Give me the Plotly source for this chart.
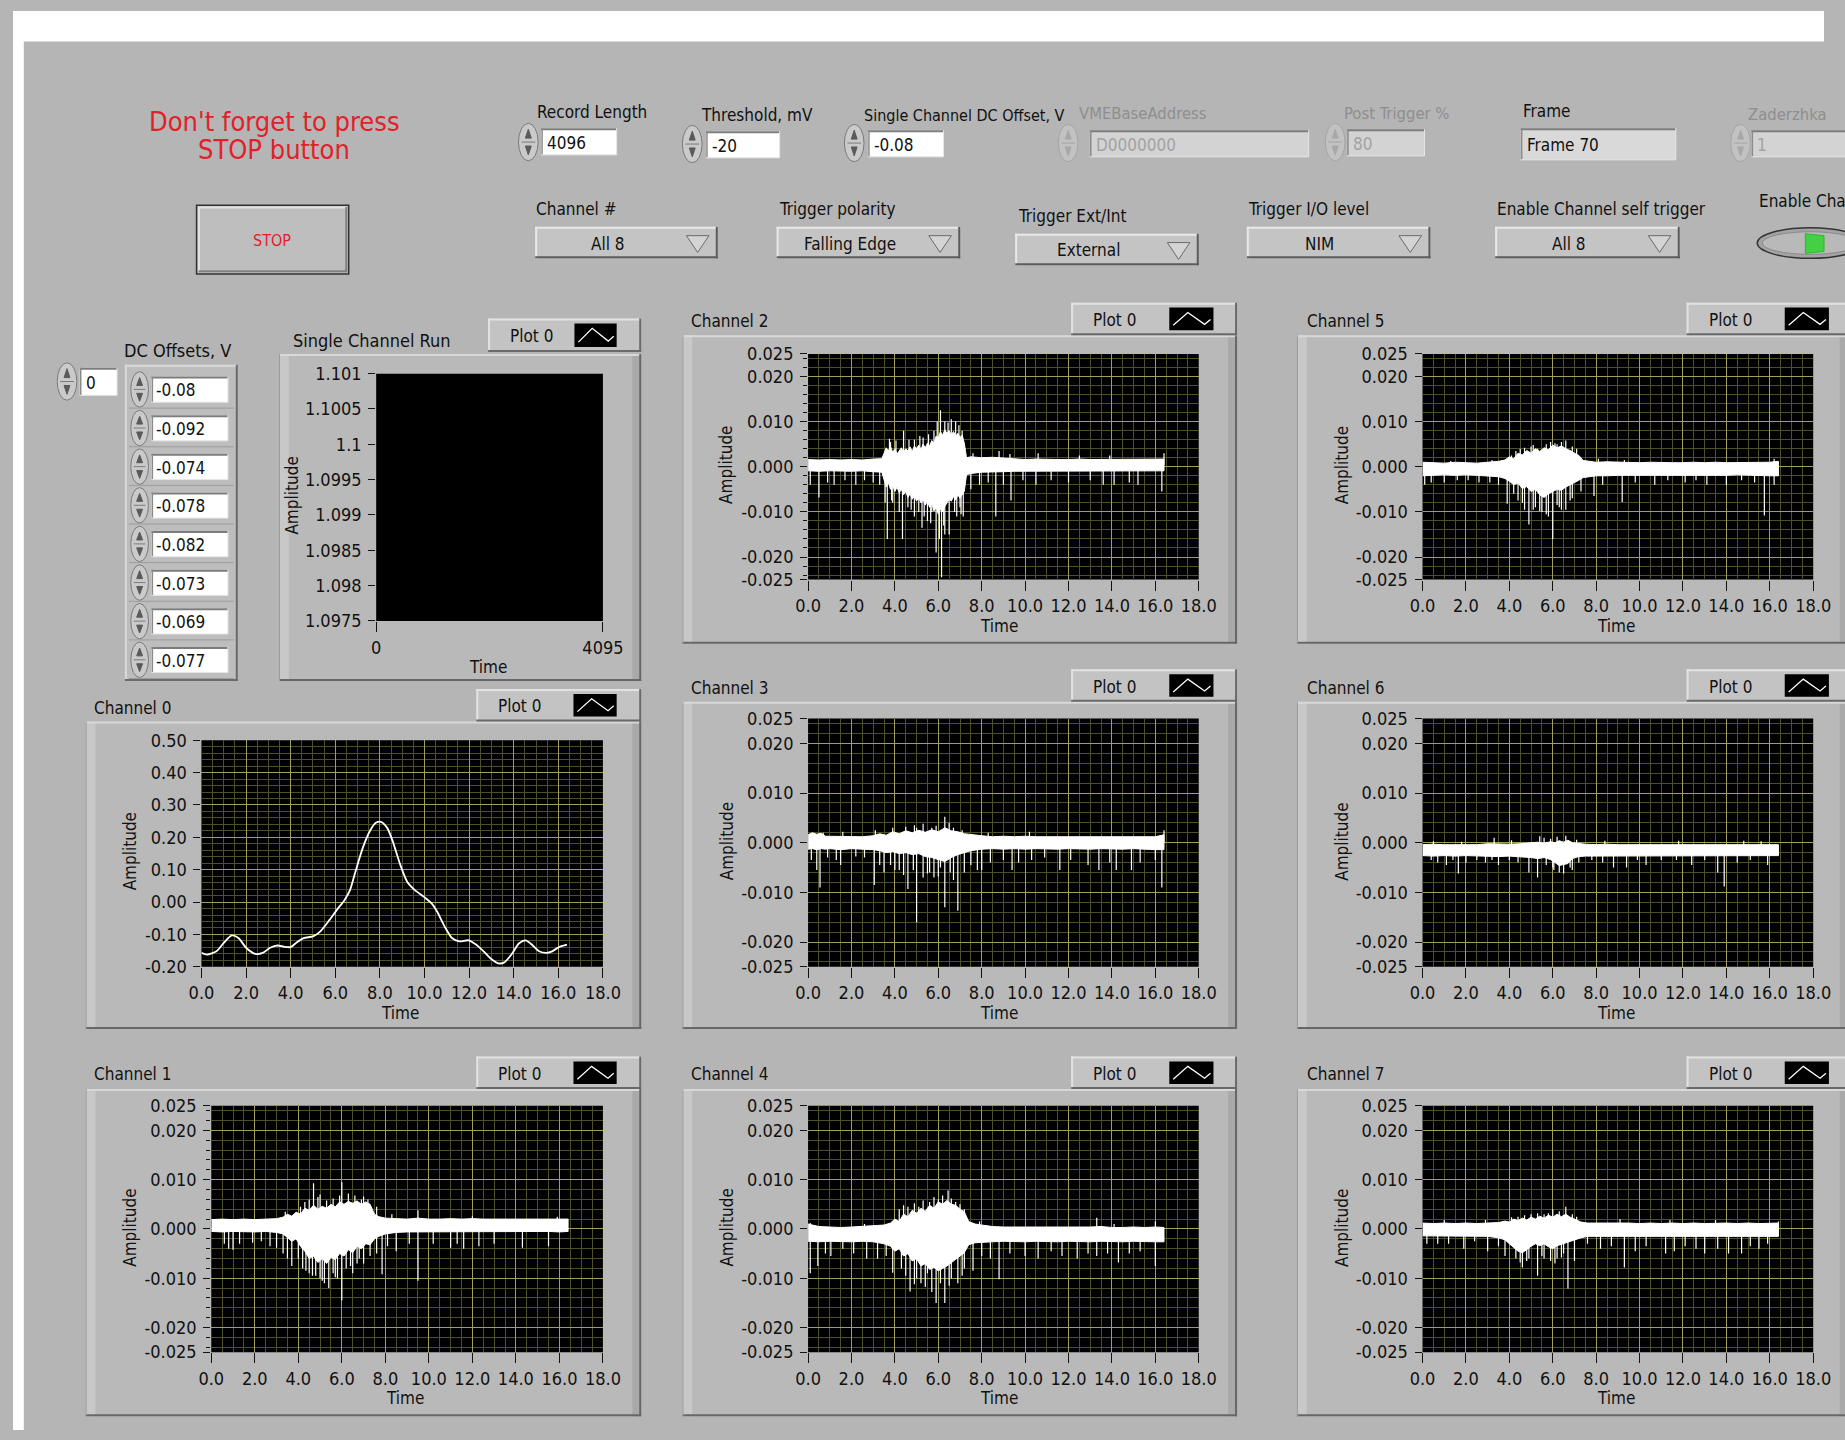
import plotly.graph_objects as go

W, H = 1845, 1440

# ======================= DATA =======================
X_TICKS = [0, 2, 4, 6, 8, 10, 12, 14, 16, 18]
X_TICK_LABELS = ["0.0", "2.0", "4.0", "6.0", "8.0", "10.0", "12.0", "14.0", "16.0", "18.0"]
Y_TICKS_SMALL = [-0.025, -0.02, -0.01, 0.0, 0.01, 0.02, 0.025]
Y_TICK_LABELS_SMALL = ["-0.025", "-0.020", "-0.010", "0.000", "0.010", "0.020", "0.025"]
Y_TICKS_CH0 = [-0.2, -0.1, 0.0, 0.1, 0.2, 0.3, 0.4, 0.5]
Y_TICK_LABELS_CH0 = ["-0.20", "-0.10", "0.00", "0.10", "0.20", "0.30", "0.40", "0.50"]
SCR_X_TICKS = [0, 4095]
SCR_X_TICK_LABELS = ["0", "4095"]
SCR_Y_TICKS = [1.0975, 1.098, 1.0985, 1.099, 1.0995, 1.1, 1.1005, 1.101]
SCR_Y_TICK_LABELS = ["1.0975", "1.098", "1.0985", "1.099", "1.0995", "1.1", "1.1005", "1.101"]

CONTROL_LABELS = ["Record Length", "Threshold, mV", "Single Channel DC Offset, V",
                  "VMEBaseAddress", "Post Trigger %", "Frame", "Zaderzhka"]
CONTROL_VALUES = ["4096", "-20", "-0.08", "D0000000", "80", "Frame 70", "1"]
RING_LABELS = ["Channel #", "Trigger polarity", "Trigger Ext/Int", "Trigger I/O level",
               "Enable Channel self trigger"]
RING_VALUES = ["All 8", "Falling Edge", "External", "NIM", "All 8"]
DC_INDEX = "0"
DC_OFFSETS = ["-0.08", "-0.092", "-0.074", "-0.078", "-0.082", "-0.073", "-0.069", "-0.077"]
CHANNEL_TITLES = ["Channel 0", "Channel 1", "Channel 2", "Channel 3",
                  "Channel 4", "Channel 5", "Channel 6", "Channel 7"]

# Channel 0 (smooth pulse)
CH0_T = [0.0, 0.25, 0.67, 1.0, 1.36, 1.66, 2.0, 2.41, 2.75, 3.08, 3.41, 3.71, 4.0, 4.24,
         4.58, 5.0, 5.32, 5.74, 6.07, 6.41, 6.66, 6.9, 7.24, 7.57, 7.82, 8.04, 8.32, 8.57,
         8.9, 9.23, 9.57, 9.98, 10.32, 10.57, 10.9, 11.23, 11.56, 11.98, 12.31, 12.65,
         12.98, 13.31, 13.56, 13.9, 14.23, 14.53, 14.81, 15.14, 15.48, 15.72, 16.06, 16.39]
CH0_V = [-0.157, -0.162, -0.152, -0.126, -0.103, -0.111, -0.141, -0.160, -0.157, -0.141,
         -0.134, -0.138, -0.139, -0.126, -0.111, -0.106, -0.091, -0.055, -0.024, 0.006,
         0.037, 0.093, 0.169, 0.222, 0.245, 0.248, 0.230, 0.189, 0.118, 0.062, 0.037,
         0.016, -0.004, -0.030, -0.075, -0.111, -0.121, -0.118, -0.131, -0.152, -0.175,
         -0.189, -0.187, -0.162, -0.128, -0.118, -0.131, -0.152, -0.157, -0.152, -0.138,
         -0.131]

# Noise channels: dense core band as (time, upper edge, lower edge)
CH1_BAND = [(0.0, .0019, -.0005), (0.5, .0020, -.0006), (1.0, .0019, -.0005), (1.5, .0020, -.0005),
            (2.0, .0019, -.0006), (2.5, .0020, -.0005), (3.0, .0021, -.0007), (3.3, .0024, -.0010),
            (3.5, .0030, -.0018), (3.7, .0026, -.0025), (3.9, .0034, -.0020), (4.1, .0030, -.0035),
            (4.3, .0042, -.0045), (4.5, .0038, -.0060), (4.7, .0048, -.0055), (4.9, .0040, -.0068),
            (5.1, .0046, -.0060), (5.3, .0042, -.0070), (5.5, .0050, -.0058), (5.7, .0045, -.0062),
            (5.9, .0055, -.0050), (6.1, .0050, -.0055), (6.3, .0056, -.0042), (6.5, .0052, -.0048),
            (6.7, .0057, -.0035), (6.9, .0050, -.0040), (7.1, .0055, -.0030), (7.3, .0050, -.0032),
            (7.5, .0030, -.0020), (7.7, .0025, -.0015), (8.0, .0022, -.0010), (8.5, .0021, -.0007),
            (9.0, .0020, -.0006), (9.5, .0022, -.0006), (10.0, .0020, -.0005), (10.5, .0020, -.0006),
            (11.0, .0021, -.0005), (11.5, .0020, -.0006), (12.0, .0021, -.0005), (12.5, .0020, -.0005),
            (13.0, .0020, -.0006), (13.5, .0021, -.0005), (14.0, .0020, -.0005), (14.5, .0021, -.0006),
            (15.0, .0020, -.0005), (15.5, .0020, -.0005), (16.0, .0021, -.0006), (16.4, .0020, -.0005)]
CH2_BAND = [(0.0, .0016, -.0009), (0.5, .0015, -.0010), (1.0, .0016, -.0009), (1.5, .0015, -.0009),
            (2.0, .0016, -.0010), (2.5, .0015, -.0009), (3.0, .0017, -.0011), (3.4, .0018, -.0012),
            (3.5, .0030, -.0030), (3.6, .0042, -.0045), (3.7, .0035, -.0035), (3.8, .0045, -.0050),
            (3.9, .0032, -.0040), (4.0, .0040, -.0055), (4.1, .0028, -.0045), (4.2, .0036, -.0058),
            (4.3, .0042, -.0050), (4.4, .0032, -.0062), (4.5, .0040, -.0055), (4.6, .0035, -.0068),
            (4.7, .0044, -.0060), (4.8, .0034, -.0072), (4.9, .0046, -.0064), (5.0, .0040, -.0076),
            (5.1, .0048, -.0068), (5.2, .0038, -.0080), (5.3, .0050, -.0072), (5.4, .0042, -.0085),
            (5.5, .0052, -.0076), (5.6, .0046, -.0090), (5.7, .0058, -.0080), (5.8, .0052, -.0098),
            (5.9, .0068, -.0090), (6.0, .0064, -.0105), (6.1, .0078, -.0094), (6.2, .0070, -.0100),
            (6.3, .0082, -.0088), (6.4, .0074, -.0080), (6.5, .0080, -.0072), (6.6, .0070, -.0076),
            (6.7, .0078, -.0066), (6.8, .0068, -.0074), (6.9, .0074, -.0062), (7.0, .0065, -.0070),
            (7.1, .0070, -.0062), (7.2, .0052, -.0054), (7.3, .0020, -.0018), (7.5, .0022, -.0015),
            (8.0, .0020, -.0012), (8.5, .0021, -.0012), (9.0, .0019, -.0011), (9.5, .0017, -.0010),
            (10.0, .0016, -.0009), (10.5, .0017, -.0009), (11.0, .0016, -.0009), (11.5, .0016, -.0010),
            (12.0, .0016, -.0009), (12.5, .0017, -.0009), (13.0, .0016, -.0009), (13.5, .0016, -.0010),
            (14.0, .0017, -.0009), (14.5, .0016, -.0009), (15.0, .0016, -.0009), (15.5, .0016, -.0010),
            (16.0, .0017, -.0009), (16.4, .0017, -.0009)]
CH3_BAND = [(0.0, .0016, -.0013), (0.2, .0020, -.0012), (0.4, .0017, -.0014), (0.6, .0019, -.0012),
            (0.8, .0013, -.0013), (1.0, .0013, -.0012), (1.5, .0012, -.0014), (2.0, .0013, -.0012),
            (2.5, .0012, -.0013), (3.0, .0014, -.0014), (3.3, .0018, -.0016), (3.6, .0015, -.0020),
            (3.9, .0022, -.0018), (4.2, .0018, -.0022), (4.5, .0024, -.0020), (4.8, .0020, -.0024),
            (5.1, .0025, -.0022), (5.4, .0021, -.0028), (5.7, .0026, -.0030), (6.0, .0022, -.0034),
            (6.3, .0030, -.0038), (6.6, .0024, -.0030), (6.9, .0022, -.0024), (7.2, .0018, -.0020),
            (7.5, .0016, -.0016), (8.0, .0014, -.0013), (8.5, .0012, -.0012), (9.0, .0013, -.0013),
            (9.5, .0012, -.0012), (10.0, .0013, -.0013), (10.5, .0012, -.0012), (11.0, .0012, -.0012),
            (11.5, .0012, -.0013), (12.0, .0012, -.0012), (12.5, .0012, -.0012), (13.0, .0012, -.0013),
            (13.5, .0012, -.0012), (14.0, .0012, -.0012), (14.5, .0012, -.0013), (15.0, .0012, -.0012),
            (15.5, .0012, -.0013), (16.0, .0012, -.0014), (16.4, .0016, -.0014)]
CH4_BAND = [(0.0, .0010, -.0025), (0.5, .0005, -.0026), (1.0, .0004, -.0025), (1.5, .0003, -.0025),
            (2.0, .0004, -.0026), (2.5, .0005, -.0025), (3.0, .0006, -.0026), (3.5, .0008, -.0030),
            (3.8, .0012, -.0035), (4.0, .0020, -.0045), (4.2, .0015, -.0040), (4.4, .0030, -.0055),
            (4.6, .0025, -.0050), (4.8, .0038, -.0065), (5.0, .0032, -.0060), (5.2, .0042, -.0075),
            (5.4, .0036, -.0070), (5.6, .0048, -.0082), (5.8, .0042, -.0078), (6.0, .0055, -.0085),
            (6.2, .0050, -.0080), (6.4, .0058, -.0075), (6.6, .0050, -.0068), (6.8, .0048, -.0062),
            (7.0, .0040, -.0055), (7.2, .0035, -.0048), (7.4, .0015, -.0032), (7.7, .0010, -.0028),
            (8.0, .0008, -.0027), (8.5, .0005, -.0026), (9.0, .0004, -.0025), (9.5, .0004, -.0025),
            (10.0, .0003, -.0026), (10.5, .0004, -.0025), (11.0, .0003, -.0025), (11.5, .0004, -.0026),
            (12.0, .0003, -.0025), (12.5, .0003, -.0025), (13.0, .0004, -.0026), (13.5, .0005, -.0025),
            (14.0, .0003, -.0025), (14.5, .0003, -.0026), (15.0, .0004, -.0025), (15.5, .0003, -.0025),
            (16.0, .0004, -.0026), (16.4, .0003, -.0026)]
CH5_BAND = [(0.0, .0010, -.0020), (0.5, .0009, -.0019), (1.0, .0008, -.0018), (1.5, .0010, -.0019),
            (2.0, .0009, -.0018), (2.5, .0008, -.0019), (3.0, .0010, -.0020), (3.5, .0012, -.0022),
            (3.8, .0015, -.0026), (4.0, .0022, -.0032), (4.2, .0018, -.0040), (4.4, .0030, -.0036),
            (4.6, .0026, -.0048), (4.8, .0036, -.0044), (5.0, .0030, -.0055), (5.2, .0040, -.0050),
            (5.4, .0034, -.0062), (5.6, .0042, -.0068), (5.8, .0038, -.0060), (6.0, .0048, -.0055),
            (6.2, .0042, -.0050), (6.4, .0046, -.0052), (6.6, .0040, -.0045), (6.8, .0036, -.0040),
            (7.0, .0030, -.0035), (7.2, .0025, -.0030), (7.4, .0014, -.0024), (7.7, .0012, -.0022),
            (8.0, .0010, -.0020), (8.5, .0011, -.0020), (9.0, .0010, -.0019), (9.5, .0010, -.0019),
            (10.0, .0009, -.0018), (10.5, .0010, -.0019), (11.0, .0009, -.0019), (11.5, .0009, -.0018),
            (12.0, .0009, -.0019), (12.5, .0010, -.0019), (13.0, .0009, -.0018), (13.5, .0010, -.0019),
            (14.0, .0009, -.0019), (14.5, .0009, -.0018), (15.0, .0010, -.0019), (15.5, .0009, -.0019),
            (16.0, .0010, -.0020), (16.4, .0012, -.0020)]
CH6_BAND = [(0.0, -.0004, -.0026), (0.5, -.0003, -.0027), (1.0, -.0004, -.0026), (1.5, -.0004, -.0027),
            (2.0, -.0003, -.0026), (2.5, -.0004, -.0026), (3.0, -.0002, -.0027), (3.5, -.0003, -.0028),
            (4.0, -.0003, -.0027), (4.5, -.0002, -.0028), (5.0, -.0001, -.0030), (5.3, .0001, -.0032),
            (5.6, -.0001, -.0030), (5.9, .0002, -.0034), (6.1, .0000, -.0040), (6.3, .0004, -.0046),
            (6.5, .0001, -.0044), (6.7, .0005, -.0042), (6.9, .0000, -.0032), (7.2, -.0002, -.0028),
            (7.5, -.0003, -.0027), (8.0, -.0004, -.0026), (8.5, -.0003, -.0026), (9.0, -.0004, -.0027),
            (9.5, -.0004, -.0026), (10.0, -.0003, -.0026), (10.5, -.0004, -.0027), (11.0, -.0004, -.0026),
            (11.5, -.0003, -.0026), (12.0, -.0004, -.0027), (12.5, -.0004, -.0026), (13.0, -.0003, -.0026),
            (13.5, -.0004, -.0027), (14.0, -.0003, -.0026), (14.5, -.0003, -.0026), (15.0, -.0004, -.0027),
            (15.5, -.0003, -.0026), (16.0, -.0004, -.0026), (16.4, -.0004, -.0026)]
CH7_BAND = [(0.0, .0012, -.0014), (0.5, .0011, -.0015), (1.0, .0012, -.0014), (1.5, .0011, -.0015),
            (2.0, .0012, -.0014), (2.5, .0011, -.0015), (3.0, .0012, -.0015), (3.5, .0013, -.0018),
            (3.8, .0016, -.0022), (4.0, .0014, -.0030), (4.2, .0020, -.0038), (4.4, .0017, -.0045),
            (4.6, .0022, -.0048), (4.8, .0018, -.0042), (5.0, .0024, -.0035), (5.2, .0020, -.0030),
            (5.4, .0026, -.0034), (5.6, .0022, -.0030), (5.8, .0028, -.0036), (6.0, .0024, -.0040),
            (6.2, .0030, -.0034), (6.4, .0025, -.0030), (6.6, .0030, -.0028), (6.8, .0024, -.0026),
            (7.0, .0020, -.0022), (7.3, .0014, -.0018), (7.6, .0012, -.0015), (8.0, .0012, -.0015),
            (8.5, .0013, -.0015), (9.0, .0012, -.0014), (9.5, .0012, -.0015), (10.0, .0011, -.0015),
            (10.5, .0012, -.0014), (11.0, .0011, -.0015), (11.5, .0012, -.0015), (12.0, .0011, -.0014),
            (12.5, .0012, -.0015), (13.0, .0011, -.0015), (13.5, .0012, -.0014), (14.0, .0012, -.0015),
            (14.5, .0011, -.0015), (15.0, .0012, -.0014), (15.5, .0011, -.0015), (16.0, .0012, -.0015),
            (16.4, .0012, -.0015)]

# Individual spikes (time, tip value)
CH1_SPIKES = [(0.6, -0.0030), (0.8, -0.0040), (1.0, -0.0042), (1.3, -0.0030), (1.9, -0.0028),
              (2.3, -0.0025), (2.7, -0.0035), (3.0, -0.0038), (3.3, -0.0050), (3.5, -0.0060),
              (3.7, -0.0075), (4.0, -0.0060), (4.2, -0.0080), (4.5, -0.0090), (4.8, -0.0095),
              (5.0, -0.0100), (5.2, -0.0110), (5.4, -0.0120), (5.6, -0.0090), (5.8, -0.0100),
              (6.0, -0.0145), (6.2, -0.0080), (6.5, -0.0090), (6.8, -0.0060), (7.0, -0.0070),
              (7.3, -0.0055), (7.6, -0.0050), (7.85, -0.0092), (8.1, -0.0035), (8.5, -0.0045),
              (9.1, -0.0030), (9.5, -0.0105), (10.2, -0.0030), (11.0, -0.0038), (11.3, -0.0030),
              (11.6, -0.0040), (12.3, -0.0035), (13.0, -0.0030), (14.3, -0.0038), (15.5, -0.0035),
              (4.35, -0.0085), (4.65, -0.0095), (5.1, -0.0105), (5.7, -0.0098), (6.4, -0.0075),
              (6.7, -0.0070),
              (3.4, 0.0035), (4.1, 0.0045), (4.5, 0.0060), (4.7, 0.0093), (5.0, 0.0070),
              (5.3, 0.0058), (6.0, 0.0095), (6.3, 0.0072), (6.9, 0.0060), (7.2, 0.0060),
              (7.6, 0.0045), (8.3, 0.0030), (9.5, 0.0038), (12.0, 0.0026), (15.9, 0.0025),
              (4.3, 0.0055), (4.9, 0.0065), (5.6, 0.0062), (5.9, 0.0068), (6.6, 0.0068), (7.0, 0.0066)]
CH2_SPIKES = [(0.1, -0.0040), (0.5, -0.0068), (0.9, -0.0035), (1.2, -0.0040), (1.7, -0.0030),
              (2.2, -0.0040), (2.6, -0.0030), (3.0, -0.0035), (3.3, -0.0040), (3.55, -0.0080),
              (3.65, -0.0160), (3.9, -0.0080), (4.2, -0.0100), (4.35, -0.0160), (4.6, -0.0090),
              (4.9, -0.0110), (5.1, -0.0100), (5.25, -0.0135), (5.5, -0.0120), (5.7, -0.0100),
              (5.9, -0.0190), (6.05, -0.0160), (6.15, -0.0245), (6.3, -0.0150), (6.5, -0.0150),
              (6.75, -0.0100), (7.0, -0.0090), (7.15, -0.0110), (7.5, -0.0050), (7.9, -0.0040),
              (8.3, -0.0035), (8.65, -0.0110), (9.0, -0.0040), (9.35, -0.0075), (9.9, -0.0030),
              (10.5, -0.0040), (11.2, -0.0030), (12.0, -0.0035), (13.0, -0.0030), (13.6, -0.0040),
              (14.1, -0.0040), (14.8, -0.0035), (15.2, -0.0040), (16.3, -0.0055),
              (3.85, -0.0075), (4.75, -0.0095), (5.35, -0.0110), (5.65, -0.0125), (6.25, -0.0130),
              (6.85, -0.0110), (7.05, -0.0105),
              (3.8, 0.0055), (4.4, 0.0080), (4.9, 0.0060), (5.3, 0.0065), (5.8, 0.0080),
              (6.1, 0.0125), (6.3, 0.0100), (6.6, 0.0105), (6.8, 0.0100), (7.1, 0.0080),
              (7.6, 0.0030), (8.8, 0.0035), (9.3, 0.0028), (10.6, 0.0030), (12.5, 0.0025),
              (13.9, 0.0025), (16.4, 0.0030), (3.75, 0.0062), (4.05, 0.0058), (4.65, 0.0060),
              (5.15, 0.0068), (5.55, 0.0072), (5.95, 0.0100), (6.45, 0.0098), (6.95, 0.0092)]
CH3_SPIKES = [(0.15, -0.0035), (0.4, -0.0055), (0.55, -0.0090), (0.9, -0.0030), (1.3, -0.0035),
              (1.5, -0.0045), (2.2, -0.0028), (2.6, -0.0030), (3.05, -0.0085), (3.3, -0.0045),
              (3.5, -0.0060), (3.8, -0.0045), (4.0, -0.0055), (4.2, -0.0055), (4.6, -0.0093),
              (4.85, -0.0055), (5.0, -0.0160), (5.3, -0.0070), (5.6, -0.0060), (5.8, -0.0070),
              (6.1, -0.0050), (6.3, -0.0130), (6.55, -0.0060), (6.9, -0.0137), (7.2, -0.0060),
              (7.5, -0.0045), (7.8, -0.0055), (8.0, -0.0055), (8.4, -0.0040), (9.0, -0.0035),
              (9.4, -0.0055), (9.7, -0.0040), (10.3, -0.0035), (10.9, -0.0030), (11.6, -0.0055),
              (12.1, -0.0035), (12.9, -0.0045), (13.4, -0.0055), (13.9, -0.0040), (14.2, -0.0055),
              (14.9, -0.0055), (15.3, -0.0040), (16.0, -0.0035), (16.3, -0.0090),
              (4.4, -0.0065), (5.5, -0.0062), (6.0, -0.0068), (6.7, -0.0075),
              (0.7, 0.0020), (1.6, 0.0022), (3.1, 0.0025), (3.9, 0.0030), (4.5, 0.0032),
              (4.9, 0.0035), (5.3, 0.0038), (5.7, 0.0030), (6.3, 0.0052), (6.7, 0.0030),
              (7.1, 0.0025), (8.3, 0.0020), (10.2, 0.0022), (16.4, 0.0025),
              (5.0, 0.0030), (5.9, 0.0034), (6.5, 0.0040)]
CH4_SPIKES = [(0.1, -0.0090), (0.45, -0.0075), (0.8, -0.0050), (1.05, -0.0055), (1.6, -0.0040),
              (2.1, -0.0050), (2.7, -0.0060), (3.2, -0.0060), (3.6, -0.0055), (3.9, -0.0089),
              (4.3, -0.0080), (4.7, -0.0127), (5.0, -0.0100), (5.2, -0.0110), (5.5, -0.0090),
              (5.9, -0.0150), (6.1, -0.0110), (6.3, -0.0150), (6.6, -0.0100), (6.9, -0.0110),
              (7.2, -0.0080), (7.6, -0.0085), (8.0, -0.0055), (8.4, -0.0060), (8.8, -0.0102),
              (9.3, -0.0050), (10.0, -0.0055), (10.6, -0.0060), (11.2, -0.0045), (11.7, -0.0055),
              (12.4, -0.0060), (12.9, -0.0050), (13.3, -0.0055), (13.8, -0.0050), (14.3, -0.0068),
              (14.8, -0.0050), (15.3, -0.0045), (16.0, -0.0075),
              (4.5, -0.0095), (4.9, -0.0112), (5.4, -0.0118), (5.7, -0.0128), (6.5, -0.0115),
              (7.1, -0.0095),
              (0.1, 0.0012), (2.6, 0.0010), (4.2, 0.0040), (4.6, 0.0045), (5.1, 0.0045),
              (5.6, 0.0055), (6.0, 0.0060), (6.45, 0.0078), (6.8, 0.0055), (7.2, 0.0040),
              (7.9, 0.0015), (13.3, 0.0023), (14.1, 0.0010), (16.0, 0.0015),
              (4.4, 0.0048), (4.9, 0.0052), (5.3, 0.0058), (5.8, 0.0065), (6.2, 0.0068),
              (6.6, 0.0062), (7.0, 0.0050)]
CH5_SPIKES = [(0.1, -0.0040), (0.4, -0.0035), (1.0, -0.0035), (1.6, -0.0030), (2.1, -0.0030),
              (2.6, -0.0035), (3.1, -0.0035), (3.5, -0.0040), (3.9, -0.0082), (4.2, -0.0060),
              (4.4, -0.0075), (4.7, -0.0095), (4.9, -0.0128), (5.2, -0.0090), (5.5, -0.0100),
              (5.7, -0.0105), (6.0, -0.0160), (6.2, -0.0085), (6.4, -0.0095), (6.6, -0.0095),
              (6.9, -0.0070), (7.3, -0.0055), (7.9, -0.0065), (8.3, -0.0040), (9.2, -0.0078),
              (9.8, -0.0035), (10.7, -0.0040), (11.3, -0.0030), (12.1, -0.0035), (12.6, -0.0030),
              (13.1, -0.0040), (14.0, -0.0040), (14.7, -0.0030), (15.3, -0.0035), (15.75, -0.0108),
              (16.2, -0.0040), (4.6, -0.0080), (5.1, -0.0095), (5.4, -0.0098), (5.8, -0.0110),
              (6.3, -0.0090), (6.8, -0.0075),
              (1.3, 0.0013), (3.2, 0.0015), (4.1, 0.0025), (4.5, 0.0040), (4.8, 0.0030),
              (5.0, 0.0045), (5.3, 0.0040), (5.9, 0.0055), (6.2, 0.0050), (6.6, 0.0058),
              (7.1, 0.0040), (8.1, 0.0018), (9.3, 0.0015), (16.2, 0.0018),
              (4.3, 0.0035), (4.7, 0.0042), (5.1, 0.0048), (5.7, 0.0050), (6.1, 0.0052),
              (6.4, 0.0055), (6.9, 0.0045)]
CH6_SPIKES = [(0.4, -0.0035), (0.7, -0.0040), (1.1, -0.0045), (1.4, -0.0035), (1.65, -0.0062),
              (2.0, -0.0040), (2.5, -0.0035), (2.9, -0.0040), (3.2, -0.0035), (3.5, -0.0045),
              (4.0, -0.0035), (4.4, -0.0040), (4.9, -0.0060), (5.3, -0.0070), (5.7, -0.0045),
              (6.0, -0.0050), (6.3, -0.0060), (6.8, -0.0050), (7.2, -0.0040), (7.8, -0.0035),
              (8.3, -0.0040), (8.8, -0.0050), (9.4, -0.0050), (9.9, -0.0035), (10.3, -0.0045),
              (11.0, -0.0035), (11.7, -0.0035), (12.4, -0.0045), (13.0, -0.0035), (13.6, -0.0060),
              (13.9, -0.0088), (14.5, -0.0040), (15.1, -0.0035), (15.9, -0.0045),
              (6.05, -0.0055), (6.5, -0.0062), (6.9, -0.0055),
              (0.5, 0.0003), (1.8, 0.0002), (3.3, 0.0010), (4.1, 0.0005), (5.4, 0.0013),
              (5.9, 0.0008), (6.6, 0.0014), (7.1, 0.0006), (8.4, 0.0004), (11.8, 0.0004),
              (14.8, 0.0004), (15.6, 0.0003), (5.6, 0.0010), (6.2, 0.0012)]
CH7_SPIKES = [(0.2, -0.0030), (0.7, -0.0030), (1.2, -0.0030), (1.9, -0.0040), (2.4, -0.0025),
              (3.0, -0.0045), (3.5, -0.0035), (3.8, -0.0055), (4.3, -0.0060), (4.6, -0.0078),
              (4.9, -0.0060), (5.3, -0.0095), (5.6, -0.0060), (5.9, -0.0065), (6.2, -0.0060),
              (6.5, -0.0050), (6.7, -0.0121), (7.0, -0.0065), (7.6, -0.0030), (8.2, -0.0040),
              (8.7, -0.0035), (9.3, -0.0078), (9.8, -0.0045), (10.3, -0.0035), (11.2, -0.0050),
              (11.6, -0.0045), (12.1, -0.0035), (12.6, -0.0040), (13.0, -0.0050), (13.6, -0.0040),
              (14.1, -0.0050), (14.7, -0.0050), (15.1, -0.0035), (15.5, -0.0040), (15.9, -0.0030),
              (4.5, -0.0068), (4.8, -0.0065), (5.5, -0.0055), (6.1, -0.0070), (6.4, -0.0058),
              (1.0, 0.0018), (2.9, 0.0018), (4.4, 0.0025), (5.0, 0.0030), (5.8, 0.0032),
              (6.0, 0.0040), (6.6, 0.0045), (7.1, 0.0025), (9.1, 0.0020), (11.4, 0.0018),
              (13.5, 0.0018), (16.4, 0.0015), (4.1, 0.0024), (4.7, 0.0028), (5.3, 0.0032),
              (5.6, 0.0030), (6.3, 0.0036), (6.9, 0.0030)]
# baseline level (centre of the quiet band) of channels 1..7
SPIKE_BASE = [0.0007, 0.0004, 0.0000, -0.0011, -0.0005, -0.0015, -0.0001]

# ======================= STYLE / LAYOUT =======================
BG = "#B5B5B5"
FONT = "'DejaVu Sans Condensed', 'Liberation Sans', Arial, sans-serif"
INK = "#111111"
DIM = "#8E8E8E"
RED = "#E3202A"
GRID_MAJOR = "rgb(160,160,92)"
GRID_MINOR = "rgb(80,80,40)"

shapes, anns = [], []


def X(x):
    return x / W


def Y(y):
    return 1 - y / H


def rect(x0, y0, x1, y1, fill, line=None, lw=0):
    shapes.append(dict(type="rect", xref="paper", yref="paper", layer="below",
                       x0=X(x0), x1=X(x1), y0=Y(y1), y1=Y(y0), fillcolor=fill,
                       line=dict(color=line or "rgba(0,0,0,0)", width=lw)))


def seg(x0, y0, x1, y1, color, lw=1):
    shapes.append(dict(type="line", xref="paper", yref="paper", layer="below",
                       x0=X(x0), x1=X(x1), y0=Y(y0), y1=Y(y1),
                       line=dict(color=color, width=lw)))


def oval(x0, y0, x1, y1, fill, line, lw=1):
    shapes.append(dict(type="circle", xref="paper", yref="paper", layer="below",
                       x0=X(x0), x1=X(x1), y0=Y(y1), y1=Y(y0), fillcolor=fill,
                       line=dict(color=line, width=lw)))


def poly(pts, line, lw=1, fill=None, closed=True):
    d = "M " + " L ".join(f"{X(a):.5f},{Y(b):.5f}" for a, b in pts) + (" Z" if closed else "")
    shapes.append(dict(type="path", xref="paper", yref="paper", layer="below", path=d,
                       fillcolor=fill or "rgba(0,0,0,0)", line=dict(color=line, width=lw)))


def label(x, y, s, size=17, color=INK, xa="left", ya="middle", angle=0):
    anns.append(dict(xref="paper", yref="paper", x=X(x), y=Y(y), text=s, showarrow=False,
                     xanchor=xa, yanchor=ya, textangle=angle, borderpad=0,
                     font=dict(family=FONT, size=size, color=color)))


def raised(x0, y0, x1, y1, fill="#C0C0C0", hi="#E4E4E4", lo="#5A5A5A", w=2):
    rect(x0, y0, x1, y1, fill)
    seg(x0, y0 + w / 2, x1, y0 + w / 2, hi, w)
    seg(x0 + w / 2, y0, x0 + w / 2, y1, hi, w)
    seg(x0, y1 - w / 2, x1, y1 - w / 2, lo, w)
    seg(x1 - w / 2, y0, x1 - w / 2, y1, lo, w)


def field(x0, y0, x1, y1, fill):
    rect(x0, y0, x1, y1, fill)
    seg(x0, y0 + 1, x1, y0 + 1, "#7C7C7C", 2)
    seg(x0 + 1, y0, x0 + 1, y1, "#8A8A8A", 1.5)
    seg(x0, y1, x1, y1, "#E6E6E6", 1)
    seg(x1, y0, x1, y1, "#E6E6E6", 1)


def spinner(cx, cy, w, h, dim=False):
    fill = "#C2C2C2" if dim else "#CACACA"
    edge = "#A5A5A5" if dim else "#7A7A7A"
    arr = "#A8A8A8" if dim else "#5A5A5A"
    oval(cx - w / 2, cy - h / 2, cx + w / 2, cy + h / 2, fill, edge, 1)
    seg(cx - w / 2 + 3, cy, cx + w / 2 - 3, cy, edge, 1)
    poly([(cx - 3, cy - 4), (cx, cy - h / 2 + 6), (cx + 3, cy - 4)], arr, 1, arr)
    poly([(cx - 3, cy + 4), (cx, cy + h / 2 - 6), (cx + 3, cy + 4)], arr, 1, arr)


# ---- page background ----
rect(0, 0, W, 31, "#FFFFFF")
rect(0, 0, 11, H, "#FFFFFF")

# ---- warning text & STOP button ----
label(266, 112, "Don't forget to press", 27, RED, "center")
label(266, 141, "STOP button", 27, RED, "center")
rect(187, 197, 342, 267, "#BEBEBE", "#333333", 1.5)
seg(189, 199.5, 340, 199.5, "#E2E2E2", 2)
seg(189.5, 199, 189.5, 265, "#E2E2E2", 2)
seg(189, 264, 340, 264, "#808080", 2)
seg(339.5, 199, 339.5, 265, "#808080", 2)
label(264, 233, "STOP", 16, RED, "center")

# ---- numeric / string controls (top row) ----
CONTROL_GEOM = [
    ((525, 133, 20, 38), (538, 119, 615, 146), (533, 102), False, "#FFFFFF", 17),
    ((692, 135, 20, 38), (706, 122, 781, 149), (700, 106), False, "#FFFFFF", 17),
    ((857, 134, 20, 38), (871, 121, 948, 148), (866, 106), False, "#FFFFFF", 16),
    ((1075, 134, 20, 38), (1097, 121, 1320, 148), (1085, 104), True, "#D3D3D3", 16.5),
    ((1347, 133, 20, 38), (1359, 120, 1438, 147), (1355, 104), True, "#D3D3D3", 16.5),
    (None, (1536, 119, 1694, 151), (1537, 101), False, "#D9D9D9", 17),
    ((1760, 134, 20, 38), (1771, 121, 1870, 148), (1767, 105), True, "#D3D3D3", 16.5),
]
for (sp, box, lp, dim, fill, fs), lab, val in zip(CONTROL_GEOM, CONTROL_LABELS, CONTROL_VALUES):
    if sp:
        spinner(*sp, dim=dim)
    field(*box, fill)
    label(lp[0], lp[1], lab, fs, DIM if dim else INK)
    label(box[0] + 5, (box[1] + box[3]) / 2 + 1, val, 17, "#A2A2A2" if dim else INK)

# ---- ring (drop-down) controls ----
RING_GEOM = [((532, 219, 718, 251), (532, 201)), ((778, 219, 965, 251), (779, 201)),
             ((1021, 226, 1208, 258), (1023, 208)), ((1257, 219, 1444, 251), (1257, 201)),
             ((1510, 219, 1698, 251), (1511, 201))]
for (box, lp), lab, val in zip(RING_GEOM, RING_LABELS, RING_VALUES):
    x0, y0, x1, y1 = box
    raised(x0, y0, x1, y1, "#C4C4C4", "#E8E8E8", "#5C5C5C", 2)
    label(lp[0], lp[1], lab, 17)
    label((x0 + x1) / 2 - 19, (y0 + y1) / 2 + 1, val, 17, INK, "center")
    poly([(x1 - 32, y0 + 9), (x1 - 9, y0 + 9), (x1 - 20.5, y1 - 6)], "#6A6A6A", 1, "#D4D4D4")

# ---- Enable toggle (cut at page edge) ----
label(1778, 193, "Enable Channel", 17)
oval(1777, 220, 1885, 251, "#A4A4A4", "#333333", 1.5)
oval(1782, 224, 1880, 247, "#B9B9B9", "#8A8A8A", 1)
poly([(1826, 226), (1845, 228), (1845, 244), (1826, 246)], "#2DB82D", 1, "#44D044")

# ---- DC offsets array ----
label(112, 345, "DC Offsets, V", 18)
spinner(55, 376, 20, 38)
field(68, 362, 106, 390, "#FFFFFF")
label(73, 377, DC_INDEX, 17)
raised(114, 359, 229, 680, "#BDBDBD", "#DADADA", "#6A6A6A", 2)
for i, v in enumerate(DC_OFFSETS):
    cy = 384 + i * 39.2
    seg(118, cy + 19, 225, cy + 19, "#9C9C9C", 1)
    spinner(129, cy, 18, 36)
    field(141, cy - 13, 219, cy + 13, "#FFFFFF")
    label(145, cy + 1, v, 17)

# ---- graph frames, legends and black plot areas ----
PLOTS = [
    ("scr", (370, 601, 368, 619), (271, 348, 640, 680), (484, 312, 640, 346), 528, 572, 615),
    ("ch0", (192, 601, 740, 970), (74, 721, 640, 1033), (472, 688, 640, 721), 516, 571, 615),
    ("ch", (202, 601, 1111, 1361), (74, 1094, 640, 1426), (472, 1061, 640, 1094), 516, 571, 615),
    ("ch", (810, 1208, 348, 577), (682, 329, 1247, 642), (1078, 296, 1247, 329), 1122, 1178, 1223),
    ("ch", (810, 1208, 718, 970), (682, 701, 1247, 1033), (1078, 668, 1247, 701), 1122, 1178, 1223),
    ("ch", (810, 1208, 1111, 1361), (682, 1094, 1247, 1426), (1078, 1061, 1247, 1094), 1122, 1178, 1223),
    ("ch", (1436, 1834, 348, 577), (1308, 329, 1870, 642), (1705, 296, 1870, 329), 1750, 1805, 1850),
    ("ch", (1436, 1834, 718, 970), (1308, 701, 1870, 1033), (1705, 668, 1870, 701), 1750, 1805, 1850),
    ("ch", (1436, 1834, 1111, 1361), (1308, 1094, 1870, 1426), (1705, 1061, 1870, 1094), 1750, 1805, 1850),
]
TITLE_POS = [(284, 334), (82, 707), (82, 1079), (690, 315), (690, 687), (690, 1079),
             (1317, 315), (1317, 687), (1317, 1079)]
AMP_POS = [(284, 492), (119, 853), (119, 1235), (727, 461), (727, 843), (727, 1235),
           (1354, 461), (1354, 843), (1354, 1235)]
TIME_POS = [(484, 666), (394, 1017), (399, 1408), (1005, 624), (1005, 1017), (1005, 1408),
            (1633, 624), (1633, 1017), (1633, 1408)]
TITLES = ["Single Channel Run"] + CHANNEL_TITLES

for (kind, pa, fr, lg, ltx, sx0, sx1), tp, ap, tmp, title in zip(PLOTS, TITLE_POS, AMP_POS, TIME_POS, TITLES):
    fx0, fy0, fx1, fy1 = fr
    rect(fx0, fy0, fx1, fy1, "#B9B9B9")
    rect(fx0, fy0, fx0 + 10, fy1, "#C8C8C8")
    rect(fx1 - 9, fy0, fx1, fy1, "#A9A9A9")
    seg(fx0, fy0 + 1, fx1, fy0 + 1, "#D8D8D8", 2)
    seg(fx0, fy1 - 1, fx1, fy1 - 1, "#676767", 2)
    seg(fx1 - 1, fy0, fx1 - 1, fy1, "#676767", 2)
    seg(fx0 + 0.5, fy0, fx0 + 0.5, fy1, "#9A9A9A", 1)
    lx0, ly0, lx1, ly1 = lg
    raised(lx0, ly0, lx1, ly1, "#C3C3C3", "#E2E2E2", "#6A6A6A", 2)
    rect(sx0, ly0 + 5, sx1, ly1 - 5, "#000000")
    sw = sx1 - sx0
    poly([(sx0 + 4, ly1 - 10), (sx0 + sw * 0.42, ly0 + 10), (sx0 + sw * 0.8, ly1 - 11),
          (sx1 - 3, ly1 - 16)], "#FFFFFF", 1.3, None, closed=False)
    label(ltx, (ly0 + ly1) / 2 + 1, "Plot 0", 17, INK, "center")
    px0, px1, py0, py1 = pa
    rect(px0, py0, px1, py1, "#000000")
    label(tp[0], tp[1], title, 18 if kind == "scr" else 17)
    label(ap[0], ap[1], "Amplitude", 17, INK, "center", "middle", -90)
    label(tmp[0], tmp[1], "Time", 17, INK, "center")

# ======================= FIGURE =======================
fig = go.Figure()
layout = {}
TICKFONT = dict(family=FONT, size=18, color=INK)

BANDS = [(CH1_BAND, CH1_SPIKES), (CH2_BAND, CH2_SPIKES), (CH3_BAND, CH3_SPIKES),
         (CH4_BAND, CH4_SPIKES), (CH5_BAND, CH5_SPIKES), (CH6_BAND, CH6_SPIKES),
         (CH7_BAND, CH7_SPIKES)]

for k, (kind, pa, *_rest) in enumerate(PLOTS, start=1):
    sfx = "" if k == 1 else str(k)
    xid, yid = "x" + sfx, "y" + sfx
    px0, px1, py0, py1 = pa
    common = dict(showline=False, zeroline=False, ticks="outside", tickcolor=INK, tickwidth=1,
                  tickfont=TICKFONT, fixedrange=True, tickmode="array")
    xcfg = dict(common, domain=[X(px0), X(px1)], anchor=yid, ticklen=10)
    ycfg = dict(common, domain=[Y(py1), Y(py0)], anchor=xid, ticklen=7, ticklabelstandoff=3)
    if kind == "scr":
        xcfg.update(range=[0, 4095], tickvals=SCR_X_TICKS, ticktext=SCR_X_TICK_LABELS, showgrid=False)
        ycfg.update(range=[1.0975, 1.101], tickvals=SCR_Y_TICKS, ticktext=SCR_Y_TICK_LABELS,
                    showgrid=False)
        fig.add_trace(go.Scatter(x=[], y=[], mode="lines", xaxis=xid, yaxis=yid,
                                 line=dict(color="white")))
    else:
        xcfg.update(range=[0, 18], tickvals=X_TICKS, ticktext=X_TICK_LABELS, showgrid=True,
                    gridcolor=GRID_MAJOR, gridwidth=1,
                    minor=dict(tick0=0, dtick=0.5, showgrid=True, gridcolor=GRID_MINOR, gridwidth=1))
        if kind == "ch0":
            ycfg.update(range=[-0.2, 0.5], tickvals=Y_TICKS_CH0, ticktext=Y_TICK_LABELS_CH0,
                        showgrid=True, gridcolor=GRID_MAJOR, gridwidth=1,
                        minor=dict(tick0=0, dtick=0.02, showgrid=True, gridcolor=GRID_MINOR,
                                   gridwidth=1))
            fig.add_trace(go.Scatter(x=CH0_T, y=CH0_V, mode="lines", xaxis=xid, yaxis=yid,
                                     line=dict(color="#FFFFFF", width=1.8, shape="spline",
                                               smoothing=0.7)))
        else:
            minor = dict(tick0=0, dtick=0.002, showgrid=True, gridcolor=GRID_MINOR, gridwidth=1)
            if k in (3, 4):
                minor.update(ticks="outside", ticklen=4, tickcolor=INK)
            ycfg.update(range=[-0.025, 0.025], tickvals=Y_TICKS_SMALL, ticktext=Y_TICK_LABELS_SMALL,
                        showgrid=True, gridcolor=GRID_MAJOR, gridwidth=1, minor=minor)
            band, spikes = BANDS[k - 3]
            base = SPIKE_BASE[k - 3]
            bt = [b[0] for b in band]
            bh = [b[1] for b in band]
            bl = [b[2] for b in band]
            fig.add_trace(go.Scatter(x=bt + bt[::-1], y=bh + bl[::-1],
                                     mode="lines", fill="toself", fillcolor="#FFFFFF",
                                     line=dict(color="#FFFFFF", width=1), xaxis=xid, yaxis=yid))
            sx, sy = [], []
            for t, v in spikes:
                sx += [t, t, None]
                sy += [base, v, None]
            fig.add_trace(go.Scatter(x=sx, y=sy, mode="lines", xaxis=xid, yaxis=yid,
                                     line=dict(color="#FFFFFF", width=1.2)))
    layout["xaxis" + sfx] = xcfg
    layout["yaxis" + sfx] = ycfg

fig.update_layout(**layout)
fig.update_layout(width=W, height=H, autosize=False, margin=dict(l=0, r=0, t=0, b=0),
                  paper_bgcolor=BG, plot_bgcolor="#000000", showlegend=False,
                  shapes=shapes, annotations=anns, hovermode=False,
                  font=dict(family=FONT, color=INK))

fig.write_html("out.html", config={"displayModeBar": False, "staticPlot": True},
               post_script="document.body.style.margin='0px';document.body.style.padding='0px';")
